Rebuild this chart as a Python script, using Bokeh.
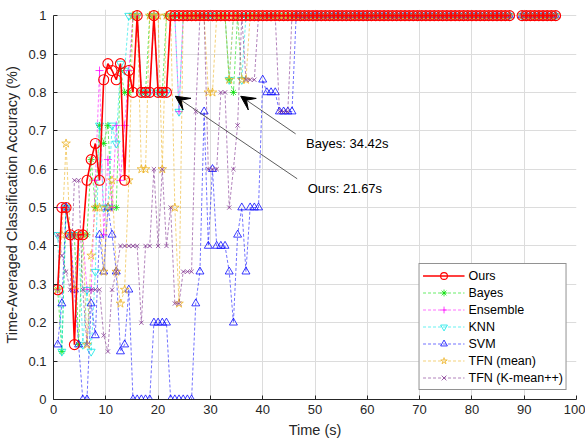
import numpy as np
from bokeh.plotting import figure
from bokeh.models import (Range1d, Arrow, VeeHead, Label, Legend, LegendItem,
                          CustomJSTickFormatter, FixedTicker, ColumnDataSource)
from bokeh.embed import file_html
from bokeh.resources import INLINE

# ---------------- data ----------------
TIME = [0.8, 1.6, 2.4, 3.2, 4.0, 4.8, 5.6, 6.4, 7.2, 8.0, 8.8, 9.6, 10.4, 11.2, 12.0, 12.8, 13.6, 14.4, 15.2, 16.0,
        16.8, 17.6, 18.4, 19.2, 20.0, 20.8, 21.6, 22.4, 23.2, 24.0, 24.8, 25.6, 26.4, 27.2, 28.0, 28.8, 29.6, 30.4, 31.2, 32.0,
        32.8, 33.6, 34.4, 35.2, 36.0, 36.8, 37.6, 38.4, 39.2, 40.0, 40.8, 41.6, 42.4, 43.2, 44.0, 44.8, 45.6, 46.4, 47.2, 48.0,
        48.8, 49.6, 50.4, 51.2, 52.0, 52.8, 53.6, 54.4, 55.2, 56.0, 56.8, 57.6, 58.4, 59.2, 60.0, 60.8, 61.6, 62.4, 63.2, 64.0,
        64.8, 65.6, 66.4, 67.2, 68.0, 68.8, 69.6, 70.4, 71.2, 72.0, 72.8, 73.6, 74.4, 75.2, 76.0, 76.8, 77.6, 78.4, 79.2, 80.0,
        80.8, 81.6, 82.4, 83.2, 84.0, 84.8, 85.6, 86.4, 87.2, 88.0, 88.8, 89.6, 90.4, 91.2, 92.0, 92.8, 93.6, 94.4, 95.2, 96.0]

OURS = [0.286, 0.5, 0.5, 0.429, 0.143, 0.429, 0.429, 0.571, 0.625, 0.667, 0.571, 0.833, 0.875, 0.857, 0.833, 0.875, 0.571, 0.857, 0.8, 1,
        0.8, 0.8, 0.8, 1, 0.8, 0.8, 0.8, 1, 1, 1, 1, 1, 1, 1, 1, 1, 1, 1, 1, 1,
        1, 1, 1, 1, 1, 1, 1, 1, 1, 1, 1, 1, 1, 1, 1, 1, 1, 1, 1, 1,
        1, 1, 1, 1, 1, 1, 1, 1, 1, 1, 1, 1, 1, 1, 1, 1, 1, 1, 1, 1,
        1, 1, 1, 1, 1, 1, 1, 1, 1, 1, 1, 1, 1, 1, 1, 1, 1, 1, 1, 1,
        1, 1, 1, 1, 1, 1, 1, 1, 1, None, None, 1, 1, 1, 1, 1, 1, 1, 1, 1]

BAYES = [0.286, 0.125, 0.5, 0.429, 0.429, 0.143, 0.429, 0.429, 0.625, 0.5, 0.714, 0.667, 0.714, 0.5, 0.5, 0.857, 0.8, 0.8, 1, 1,
         0.8, 0.8, 1, 1, 0.8, 0.8, 1, 1, 1, 1, 1, 1, 1, 1, 1, 1, 1, 1, 1, 1,
         1, 0.833, 0.8, 1, 1, 1, 1, 1, 1, 1, 1, 1, 1, 1, 1, 1, 1, 1, 1, 1,
         1, 1, 1, 1, 1, 1, 1, 1, 1, 1, 1, 1, 1, 1, 1, 1, 1, 1, 1, 1,
         1, 1, 1, 1, 1, 1, 1, 1, 1, 1, 1, 1, 1, 1, 1, 1, 1, 1, 1, 1,
         1, 1, 1, 1, 1, 1, 1, 1, 1, None, None, 1, 1, 1, 1, 1, 1, 1, 1, 1]

ENSEMBLE = [0.286, 0.5, 0.5, 0.429, 0.286, 0.429, 0.429, 0.286, 0.286, 0.571, 0.857, 0.429, 0.625, 0.5, 0.714, 0.571, 0.714, 0.857, 1, 1,
            0.8, 0.8, 0.8, 1, 0.8, 0.8, 0.8, 1, 1, 0.75, 1, 1, 1, 1, 1, 1, 1, 1, 1, 1,
            1, 1, 1, 1, 1, 1, 1, 1, 1, 1, 1, 1, 1, 1, 1, 1, 1, 1, 1, 1,
            1, 1, 1, 1, 1, 1, 1, 1, 1, 1, 1, 1, 1, 1, 1, 1, 1, 1, 1, 1,
            1, 1, 1, 1, 1, 1, 1, 1, 1, 1, 1, 1, 1, 1, 1, 1, 1, 1, 1, 1,
            1, 1, 1, 1, 1, 1, 1, 1, 1, None, None, 1, 1, 1, 1, 1, 1, 1, 1, 1]

KNN = [0.429, 0.125, 0.5, 0.429, 0.429, 0.429, 0.143, 0.286, 0.125, 0.333, 0.714, 0.5, 0.5, 0.714, 0.667, 0.875, 0.857, 1, 1, 1,
       0.8, 0.8, 0.8, 1, 0.8, 0.8, 0.8, 1, 1, 0.75, 1, 1, 1, 1, 1, 1, 1, 1, 1, 1,
       1, 0.833, 1, 1, 0.833, 1, 1, 1, 1, 1, 1, 1, 1, 1, 1, 1, 1, 1, 1, 1,
       1, 1, 1, 1, 1, 1, 1, 1, 1, 1, 1, 1, 1, 1, 1, 1, 1, 1, 1, 1,
       1, 1, 1, 1, 1, 1, 1, 1, 1, 1, 1, 1, 1, 1, 1, 1, 1, 1, 1, 1,
       1, 1, 1, 1, 1, 1, 1, 1, 1, None, None, 1, 1, 1, 1, 1, 1, 1, 1, 1]

SVM = [0.143, 0.25, 0.5, 0.429, 0.286, 0.143, 0, 0, 0.25, 0.167, 0.429, 0.333, 0.5, 0.429, 0.333, 0.125, 0.143, 0.286, 0, 0,
       0, 0, 0, 0.2, 0.2, 0.2, 0.2, 0, 0, 0, 0, 0, 0, 0.25, 0.333, 0.75, 0.4, 0.6, 0.4, 0.4,
       0.4, 0.333, 0.2, 0.429, 0.5, 0.333, 0.5, 0.5, 0.5, 0.833, 0.8, 0.8, 0.8, 0.75, 0.75, 0.75, 0.75, 1, 1, 1,
       1, 1, 1, 1, 1, 1, 1, 1, 1, 1, 1, 1, 1, 1, 1, 1, 1, 1, 1, 1,
       1, 1, 1, 1, 1, 1, 1, 1, 1, 1, 1, 1, 1, 1, 1, 1, 1, 1, 1, 1,
       1, 1, 1, 1, 1, 1, 1, 1, 1, None, None, 1, 1, 1, 1, 1, 1, 1, 1, 1]

TFN_MEAN = [0.286, 0.429, 0.667, 0.429, 0.286, 0.429, 0.429, 0.143, 0.375, 0.5, 0.5, 0.333, 0.5, 0.571, 0.333, 0.25, 0.286, 0.571, 1, 1,
            0.6, 0.6, 1, 1, 1, 0.6, 1, 1, 0.5, 0.25, 1, 1, 1, 1, 1, 1, 0.8, 0.8, 1, 1,
            1, 0.833, 1, 1, 0.833, 0.833, 1, 1, 1, 1, 1, 1, 1, 1, 1, 1, 1, 1, 1, 1,
            1, 1, 1, 1, 1, 1, 1, 1, 1, 1, 1, 1, 1, 1, 1, 1, 1, 1, 1, 1,
            1, 1, 1, 1, 1, 1, 1, 1, 1, 1, 1, 1, 1, 1, 1, 1, 1, 1, 1, 1,
            1, 1, 1, 1, 1, 1, 1, 1, 1, None, None, 1, 1, 1, 1, 1, 1, 1, 1, 1]

TFN_KMEANPP = [0.429, 0.375, 0.333, 0.286, 0.571, 0.571, 0.286, 0.143, 0.286, 0.286, 0.286, 0.167, 0.125, 0.286, 0.333, 0.4, 0.4, 0.4, 0.4, 0.4,
               0.2, 0.4, 0.4, 0.6, 0.4, 0.6, 0.4, 0.5, 0.25, 0.25, 0.333, 0.333, 0.333, 0.75, 1, 1, 0.6, 0.6, 0.6, 0.8,
               0.8, 0.5, 0.6, 0.714, 1, 0.833, 0.833, 0.833, 1, 1, 1, 1, 1, 0.75, 0.75, 0.75, 1, 1, 1, 1,
               1, 1, 1, 1, 1, 1, 1, 1, 1, 1, 1, 1, 1, 1, 1, 1, 1, 1, 1, 1,
               1, 1, 1, 1, 1, 1, 1, 1, 1, 1, 1, 1, 1, 1, 1, 1, 1, 1, 1, 1,
               1, 1, 1, 1, 1, 1, 1, 1, 1, None, None, 1, 1, 1, 1, 1, 1, 1, 1, 1]

LABELS = ["Ours", "Bayes", "Ensemble", "KNN", "SVM", "TFN (mean)", "TFN (K-mean++)"]
X_TICKS = [0, 10, 20, 30, 40, 50, 60, 70, 80, 90, 100]
Y_TICKS = [0, 0.1, 0.2, 0.3, 0.4, 0.5, 0.6, 0.7, 0.8, 0.9, 1.0]

# annotations: (text, text position, arrow start, arrow end) in data units
ANNOT_BAYES = ("Bayes: 34.42s", (48.3, 0.667), (46.3, 0.692), (35.8, 0.79))
ANNOT_OURS = ("Ours: 21.67s", (48.6, 0.55), (46.6, 0.575), (23.3, 0.79))

# ---------------- figure ----------------
FONT = "Liberation Sans"
TXT = "#262626"

p = figure(width=585, height=443, output_backend="svg", toolbar_location=None,
           x_range=Range1d(0, 100), y_range=Range1d(0, 1.016),
           min_border_left=53, min_border_right=9, min_border_top=9, min_border_bottom=44,
           background_fill_color="white", border_fill_color="white")
p.outline_line_color = None

styles = {
    "Ours":           dict(color="#FF0000", marker="circle", size=10, lw=1.6, dash="solid", alpha=1.0),
    "Bayes":          dict(color="#00E000", marker="asterisk", size=7, lw=0.8, dash="3 2", alpha=0.75),
    "Ensemble":       dict(color="#FF00FF", marker="cross", size=8, lw=0.8, dash="3 2", alpha=0.7),
    "KNN":            dict(color="#00E5E5", marker="inverted_triangle", size=8, lw=0.8, dash="3 2", alpha=0.75),
    "SVM":            dict(color="#0000FF", marker="triangle", size=8, lw=0.8, dash="3 2", alpha=0.7),
    "TFN (mean)":     dict(color="#EDB120", marker="star", size=9, lw=0.8, dash="3 2", alpha=0.75),
    "TFN (K-mean++)": dict(color="#7E2F8E", marker="x", size=6, lw=0.8, dash="3 2", alpha=0.75),
}
data = {"Ours": OURS, "Bayes": BAYES, "Ensemble": ENSEMBLE, "KNN": KNN, "SVM": SVM,
        "TFN (mean)": TFN_MEAN, "TFN (K-mean++)": TFN_KMEANPP}

renderers = {}
draw_order = LABELS[1:] + ["Ours"]
for name in draw_order:
    st = styles[name]
    y = np.array([np.nan if v is None else v for v in data[name]], dtype=float)
    src = ColumnDataSource(dict(x=np.array(TIME, dtype=float), y=y))
    lr = p.line("x", "y", source=src, line_color=st["color"], line_width=st["lw"],
                line_dash=st["dash"], line_alpha=st["alpha"])
    sr = p.scatter("x", "y", source=src, marker=st["marker"], size=st["size"],
                   line_color=st["color"], fill_color=None, line_width=1.1 if name == "Ours" else 0.9,
                   line_alpha=1.0 if name == "Ours" else 0.85)
    renderers[name] = [lr, sr]

legend = Legend(items=[LegendItem(label=n, renderers=renderers[n]) for n in LABELS],
                location="bottom_right", margin=9, padding=3, spacing=0,
                glyph_width=42, glyph_height=17, label_height=17, label_standoff=4,
                label_text_font=FONT, label_text_font_size="12.5px", label_text_color="#000000",
                border_line_color="#262626", border_line_width=1, background_fill_color="white",
                background_fill_alpha=1.0)
p.add_layout(legend)

# axes
for ax in (p.xaxis[0], p.yaxis[0]):
    ax.axis_line_color = TXT
    ax.major_tick_line_color = TXT
    ax.major_tick_in = 4
    ax.major_tick_out = 0
    ax.minor_tick_line_color = None
    ax.major_label_text_font = FONT
    ax.major_label_text_font_size = "13px"
    ax.major_label_text_color = TXT
    ax.axis_label_text_font = FONT
    ax.axis_label_text_font_size = "14.5px"
    ax.axis_label_text_font_style = "normal"
    ax.axis_label_text_color = TXT

p.xaxis.ticker = FixedTicker(ticks=X_TICKS)
p.yaxis.ticker = FixedTicker(ticks=Y_TICKS)
p.yaxis.formatter = CustomJSTickFormatter(code="return String(Math.round(tick*10)/10);")
p.yaxis.bounds = (0, 1)
p.xaxis.axis_label = "Time (s)"
p.yaxis.axis_label = "Time-Averaged Classification Accuracy (%)"
p.xaxis.major_label_standoff = 5
p.yaxis.major_label_standoff = 7
p.xaxis.axis_label_standoff = 5
p.yaxis.axis_label_standoff = 5

p.xgrid.grid_line_color = "#DCDCDC"
p.ygrid.grid_line_color = "#DCDCDC"
p.xgrid.grid_line_width = 1
p.ygrid.grid_line_width = 1

# annotations
for text, (tx, ty), (xs, ys), (xe, ye) in (ANNOT_BAYES, ANNOT_OURS):
    p.add_layout(Arrow(end=VeeHead(size=14, fill_color="black", line_color="black", line_width=1),
                       x_start=xs, y_start=ys, x_end=xe, y_end=ye,
                       line_color="#333333", line_width=0.8))
    p.add_layout(Label(x=tx, y=ty, text=text, text_baseline="middle", text_align="left",
                       text_font=FONT, text_font_size="13px", text_color="#000000"))

open("out.html", "w").write(file_html(p, INLINE))
